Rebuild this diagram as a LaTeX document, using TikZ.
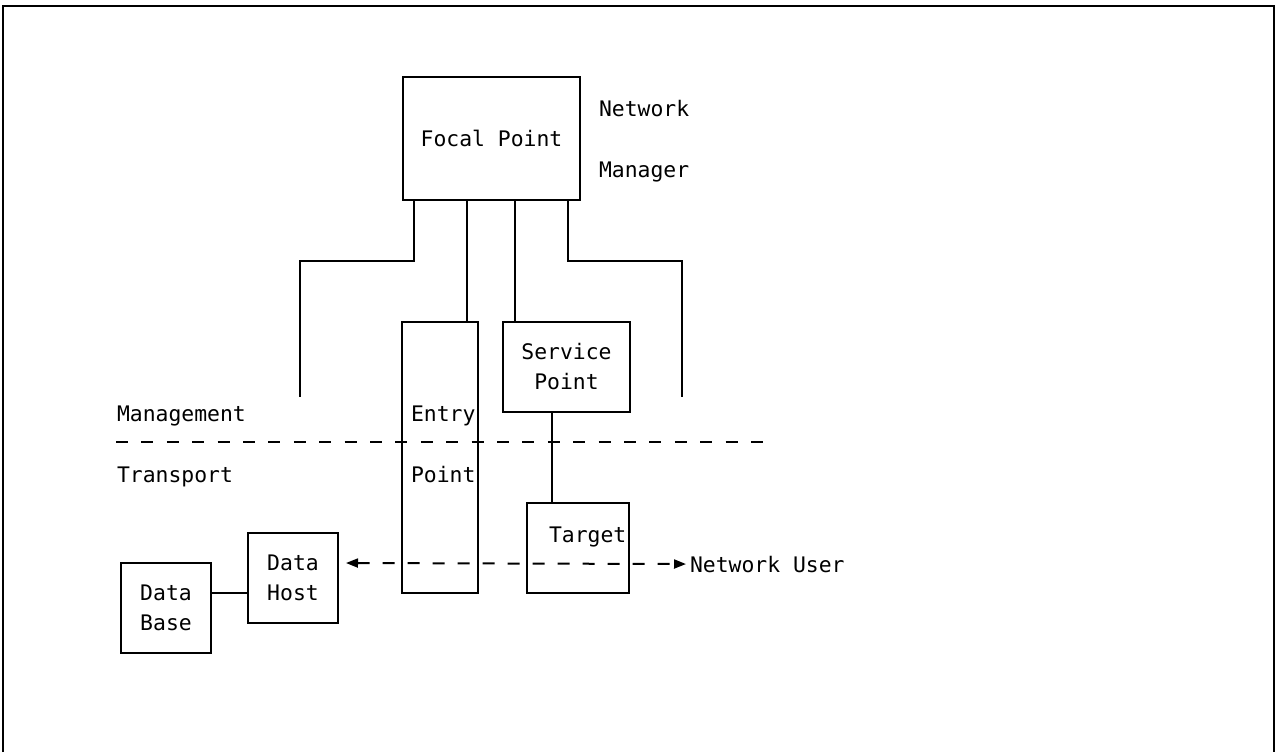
\documentclass[tikz,border=0pt]{standalone}
\usepackage{fontspec}
\usepackage{tikz}
\usetikzlibrary{arrows.meta,positioning,calc}
\newfontfamily\diagfont{DejaVu Sans Mono}

\begin{document}
\begin{tikzpicture}[x=0.5pt,y=-0.5pt,
 line width=1pt,
 every node/.style={font=\diagfont\fontsize{10.7}{15}\selectfont,inner sep=0pt},
 box/.style={draw,line width=1pt,align=center},
 lbl/.style={anchor=base west},
 divider/.style={dash pattern=on 6pt off 6.7pt},
 arrow/.style={{Triangle[length=6pt,width=4.5pt]}-{Triangle[length=6pt,width=4.5pt]},
               dash pattern=on 6pt off 6.5pt}]
 \useasboundingbox (0,0) rectangle (1278,752);
 % frame, open at the bottom
 \coordinate (fbl) at (3,752);
 \coordinate (ftl) at (3,6);
 \coordinate (ftr) at (1274,6);
 \coordinate (fbr) at (1274,752);
 \draw (fbl) -- (ftl) -- (ftr) -- (fbr);
 % boxes
 \node (focal) [box,minimum width=88.5pt,minimum height=61.5pt] at (491.5,138.5) {Focal Point};
 \node (entry) [box,minimum width=38pt,minimum height=135.5pt] at (440,457.5) {};
 \node (service) [box,minimum width=63.5pt,minimum height=45pt] at (566.5,367) {Service\\Point};
 \node (target) [box,minimum width=51pt,minimum height=45pt] at (578,548) {};
 \node (host) [box,minimum width=45pt,minimum height=45pt] at (293,578) {Data\\Host};
 \node (base) [box,minimum width=45pt,minimum height=45pt] at (166,608) {Data\\Base};
 % texts
 \node (entrytop) [lbl] at (410,421) {Entry};
 \node (entrybot) [lbl] at (410,482) {Point};
 \node (targettxt) [lbl] at (548,542) {Target};
 \node (nwtop) [lbl] at (598,116) {Network};
 \node (nwbot) [lbl] at (598,177) {Manager};
 \node (mgmt) [lbl] at (116,421) {Management};
 \node (transp) [lbl] at (116,482) {Transport};
 \node (netuser) [lbl] at (689,572) {Network User};
 % management / transport boundary
 \coordinate (divL) at (116,442);
 \coordinate (divR) at (763,442);
 \draw[divider] (divL) -- (divR);
 % lines out of the focal point
 \coordinate (lknee) at (300,261);
 \coordinate (lend) at (300,397);
 \coordinate (rknee) at (682,261);
 \coordinate (rend) at (682,397);
 \coordinate (epin) at ([xshift=-6pt]entry.north east);
 \coordinate (spin) at ([xshift=6.5pt]service.north west);
 \coordinate (tgin) at ([xshift=13pt]target.north west);
 \draw ([xshift=6pt]focal.south west) |- (lknee) -- (lend);
 \draw (epin) -- (epin |- focal.south);
 \draw (spin) -- (spin |- focal.south);
 \draw ([xshift=-6.5pt]focal.south east) |- (rknee) -- (rend);
 \draw (tgin) -- (tgin |- service.south);
 \draw ([yshift=7.5pt]base.east) -- ([yshift=-7.5pt]host.west);
 \draw[arrow] ([shift={(3.5pt,7.5pt)}]host.east) -- ([xshift=-1.5pt]netuser.west);
\end{tikzpicture}
\end{document}
